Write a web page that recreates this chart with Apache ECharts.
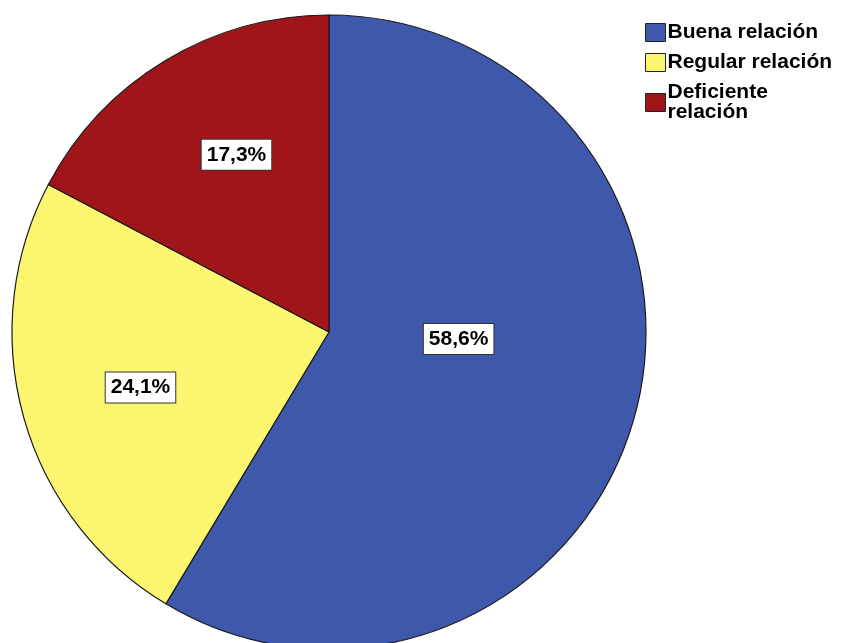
<!DOCTYPE html>
<html>
<head>
<meta charset="utf-8">
<script src="https://cdn.jsdelivr.net/npm/echarts@6/dist/echarts.min.js"></script>
<style>
  html, body { margin: 0; padding: 0; background: #fff; }
  #chart { width: 842px; height: 643px; }
</style>
</head>
<body>
<div id="chart"></div>
<script>
// Categories and their percentages
const categories = ['Buena relación', 'Regular relación', 'Deficiente relación'];
const percentages = [58.6, 24.1, 17.3];
const sliceColors = ['#3e58ab', '#fbf56f', '#a0151a'];
// Per-slice nudges of the value labels from their default inside spot
const labelOffsets = [[-26, -36], [-33, 12], [-9, -39]];

const chart = echarts.init(document.getElementById('chart'), null, { renderer: 'canvas' });

const fmtPct = v => v.toFixed(1).replace('.', ',') + '%';

chart.setOption({
  animation: false,
  backgroundColor: '#ffffff',
  legend: {
    orient: 'vertical',
    left: 640,
    top: 17,
    itemWidth: 20,
    itemHeight: 18,
    itemGap: 9,
    icon: 'rect',
    selectedMode: false,
    itemStyle: { borderColor: '#222', borderWidth: 1 },
    formatter: name => name === 'Deficiente relación' ? 'Deficiente\nrelación' : name,
    textStyle: {
      fontFamily: 'Liberation Sans, Arial, sans-serif',
      fontWeight: 'bold',
      fontSize: 21,
      lineHeight: 20,
      color: '#000',
      padding: [0, 0, 0, -3]
    },
    data: categories
  },
  series: [{
    type: 'pie',
    center: [329, 332],
    radius: [0, 317],
    startAngle: 90,
    clockwise: true,
    avoidLabelOverlap: false,
    itemStyle: { borderColor: '#1a1a1a', borderWidth: 1.2 },
    emphasis: { disabled: true },
    label: {
      show: true,
      position: 'inside',
      formatter: p => fmtPct(p.value),
      fontFamily: 'Liberation Sans, Arial, sans-serif',
      fontWeight: 'bold',
      fontSize: 21,
      color: '#000',
      backgroundColor: '#fff',
      borderColor: '#333',
      borderWidth: 1,
      padding: [5, 5, 4, 5]
    },
    labelLine: { show: false },
    data: categories.map((name, i) => ({
      name: name,
      value: percentages[i],
      itemStyle: { color: sliceColors[i] },
      label: { offset: labelOffsets[i] }
    }))
  }]
});
</script>
</body>
</html>
